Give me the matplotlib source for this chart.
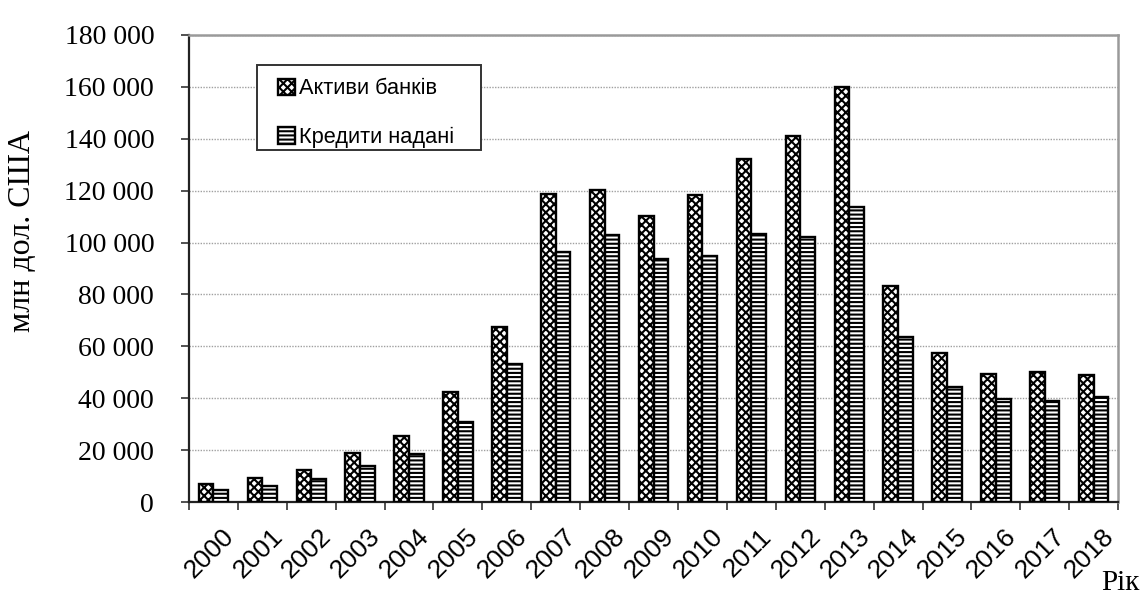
import matplotlib
matplotlib.use("Agg")
import matplotlib.pyplot as plt
from matplotlib.patches import Rectangle
from matplotlib.ticker import FuncFormatter, MultipleLocator
from matplotlib.transforms import ScaledTranslation
import numpy as np

years = ["2000", "2001", "2002", "2003", "2004", "2005", "2006", "2007", "2008", "2009",
         "2010", "2011", "2012", "2013", "2014", "2015", "2016", "2017", "2018"]
assets = [7100, 9200, 12200, 19100, 25500, 42500, 67600, 118600, 120100, 110200,
          118500, 132300, 141000, 160000, 83400, 57500, 49300, 50200, 48900]
loans = [4600, 6200, 9000, 14000, 18700, 31000, 53400, 96300, 103000, 93700,
         94800, 103400, 102000, 113900, 63800, 44200, 39700, 39000, 40600]

label_assets = "Активи банків"
label_loans = "Кредити надані"
y_label = "млн дол. США"
x_label = "Рік"

plt.rcParams["hatch.linewidth"] = 1.5

fig = plt.figure(figsize=(11.41, 5.97), dpi=100)
ax = fig.add_axes([0.1656, 0.159, 0.8144, 0.7824])

x = np.arange(len(years))
w = 0.3
ax.bar(x - w / 2, assets, width=w, facecolor="white", edgecolor="black",
       linewidth=1.7, hatch="xxxx", label=label_assets, zorder=3)
ax.bar(x + w / 2, loans, width=w, facecolor="white", edgecolor="black",
       linewidth=1.7, hatch="----", label=label_loans, zorder=3)

ax.set_xlim(-0.5, len(years) - 0.5)
ax.set_ylim(0, 180000)
ax.yaxis.set_major_locator(MultipleLocator(20000))
ax.yaxis.set_major_formatter(
    FuncFormatter(lambda v, p: f"{int(v):,}".replace(",", " ")))

# category labels at centres, tick marks at category boundaries
ax.set_xticks(x)
ax.set_xticklabels(years, rotation=45, ha="right", va="top", rotation_mode="anchor",
                   fontfamily="Liberation Sans", fontsize=19)
ax.tick_params(axis="x", which="major", length=0, pad=16)
shift = ScaledTranslation(8 / 100, 0, fig.dpi_scale_trans)
for t in ax.get_xticklabels():
    t.set_transform(t.get_transform() + shift)
ax.set_xticks(np.arange(len(years) + 1) - 0.5, minor=True)
ax.tick_params(axis="x", which="minor", length=6, width=1.2, direction="out", color="#333333")

ax.tick_params(axis="y", length=6, width=1.2, direction="out", pad=19, color="#333333")
for t in ax.get_yticklabels():
    t.set_fontfamily("Liberation Serif")
    t.set_fontsize(20)

ax.grid(axis="y", color="#a0a0a0", linestyle=(0, (1, 1)), linewidth=1.0, zorder=0)
ax.set_axisbelow(True)

for side in ("left", "bottom"):
    ax.spines[side].set_color("#222222")
    ax.spines[side].set_linewidth(1.6)
for side in ("top", "right"):
    ax.spines[side].set_color("#9a9a9a")
    ax.spines[side].set_linewidth(1.8)

# legend box
ax.add_patch(Rectangle((0.073, 0.754), 0.241, 0.182, transform=ax.transAxes,
                       facecolor="white", edgecolor="#333333", linewidth=1.4, zorder=4))
leg = ax.legend(loc="upper left", bbox_to_anchor=(0.0955, 0.907), frameon=False,
                prop={"family": "Liberation Sans", "size": 15.7},
                handlelength=0.8, handleheight=0.8, handletextpad=0.2,
                labelspacing=1.25, borderaxespad=0, borderpad=0)
leg.set_zorder(5)

fig.text(23 / 1141, 1 - 231 / 597, y_label, rotation=90, ha="center", va="center",
         fontfamily="Liberation Serif", fontsize=23)
fig.text(1140 / 1141, 0.5 / 597, x_label, ha="right", va="bottom",
         fontfamily="Liberation Serif", fontsize=21)

fig.savefig("out.png", dpi=100)
